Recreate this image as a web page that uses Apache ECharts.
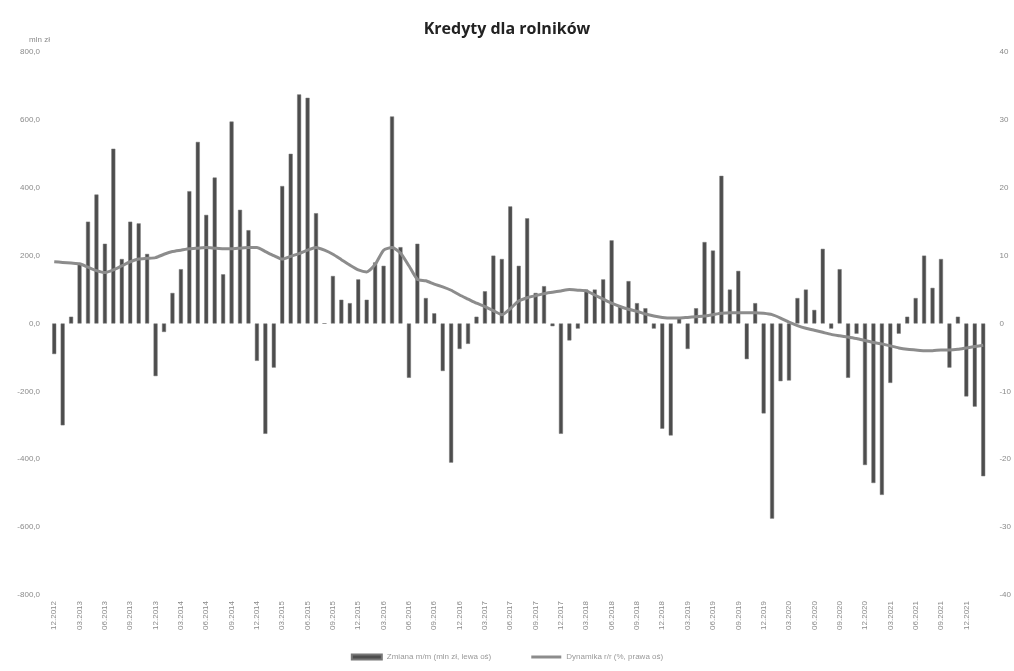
<!DOCTYPE html>
<html style="height: 100%">
<head>
    <meta charset="utf-8">
    <title>Kredyty dla rolników</title>
    <script src="https://cdn.jsdelivr.net/npm/echarts@6/dist/echarts.min.js"></script>
</head>
<body style="height: 100%; margin: 0; background: #fff">
<div id="container" style="width: 1014px; height: 671px"></div>
<script type="text/javascript">
    // miesiące 12.2012 - 02.2022
    var months = ['12.2012',
        '01.2013','02.2013','03.2013','04.2013','05.2013','06.2013','07.2013','08.2013','09.2013','10.2013','11.2013','12.2013',
        '01.2014','02.2014','03.2014','04.2014','05.2014','06.2014','07.2014','08.2014','09.2014','10.2014','11.2014','12.2014',
        '01.2015','02.2015','03.2015','04.2015','05.2015','06.2015','07.2015','08.2015','09.2015','10.2015','11.2015','12.2015',
        '01.2016','02.2016','03.2016','04.2016','05.2016','06.2016','07.2016','08.2016','09.2016','10.2016','11.2016','12.2016',
        '01.2017','02.2017','03.2017','04.2017','05.2017','06.2017','07.2017','08.2017','09.2017','10.2017','11.2017','12.2017',
        '01.2018','02.2018','03.2018','04.2018','05.2018','06.2018','07.2018','08.2018','09.2018','10.2018','11.2018','12.2018',
        '01.2019','02.2019','03.2019','04.2019','05.2019','06.2019','07.2019','08.2019','09.2019','10.2019','11.2019','12.2019',
        '01.2020','02.2020','03.2020','04.2020','05.2020','06.2020','07.2020','08.2020','09.2020','10.2020','11.2020','12.2020',
        '01.2021','02.2021','03.2021','04.2021','05.2021','06.2021','07.2021','08.2021','09.2021','10.2021','11.2021','12.2021',
        '01.2022','02.2022'];

    // zmiana m/m w mln zł
    var changes = [-90,-300,20,175,300,380,235,515,190,300, 295,205,-155,-25,90,160,390,535,320,430,
        145,595,335,275,-110,-325,-130,405,500,675, 665,325,0,140,70,60,130,70,180,170,
        610,225,-160,235,75,30,-140,-410,-75,-60, 20,95,200,190,345,170,310,90,110,-8,
        -325,-50,-15,100,100,130,245,50,125,60, 45,-15,-310,-330,15,-75,45,240,215,435,
        100,155,-105,60,-265,-575,-170,-168,75,100, 40,220,-15,160,-160,-30,-417,-470,-505,-175,
        -30,20,75,200,105,190,-130,20,-215,-245, -450];

    // dynamika r/r w %
    var dynamics = [9.1,9.0,8.9,8.8,8.3,7.8,7.5,7.9,8.5,9.1, 9.5,9.6,9.7,10.2,10.6,10.8,11.0,11.1,11.2,11.1,
        11.0,11.0,11.1,11.2,11.2,10.6,10.0,9.5,9.9,10.3, 10.8,11.2,10.8,10.2,9.4,8.6,7.9,7.6,8.7,10.8,
        11.2,10.4,8.5,6.5,6.3,5.8,5.4,4.9,4.2,3.6, 3.0,2.5,1.9,1.3,2.2,3.3,3.8,4.1,4.4,4.6,
        4.8,5.0,4.9,4.8,4.2,3.6,3.0,2.5,2.1,1.8, 1.4,1.1,0.9,0.8,0.8,0.9,1.0,1.1,1.3,1.5,
        1.6,1.6,1.6,1.6,1.5,1.3,0.8,0.2,-0.3,-0.7, -1.0,-1.3,-1.6,-1.8,-2.0,-2.2,-2.5,-2.8,-3.0,-3.3,
        -3.6,-3.8,-3.9,-4.0,-4.0,-3.9,-3.9,-3.8,-3.6,-3.4, -3.2];

    var leftTicks = [-800, -600, -400, -200, 0, 200, 400, 600, 800];
    var rightTicks = [-40, -30, -20, -10, 0, 10, 20, 30, 40];

    var dom = document.getElementById("container");
    var myChart = echarts.init(dom);

    var labelColor = '#8a8a8a';

    var option = {
        backgroundColor: '#fff',
        animation: false,
        title: {
            text: 'Kredyty dla rolników',
            left: 'center',
            top: 16,
            textStyle: {fontFamily: 'Open Sans', fontSize: 16, fontWeight: 'bold', color: '#222'}
        },
        grid: {left: 50, right: 26, top: 52, bottom: 76},
        legend: {
            bottom: 5,
            left: 'center',
            itemGap: 40,
            itemWidth: 30,
            itemHeight: 5,
            textStyle: {fontSize: 8, color: '#999'},
            data: [
                {name: 'Zmiana m/m (mln zł, lewa oś)', icon: 'rect'},
                {name: 'Dynamika r/r (%, prawa oś)', icon: 'path://M0,0 L30,0 L30,3 L0,3 Z'}
            ]
        },
        xAxis: {
            type: 'category',
            data: months,
            axisLine: {show: false},
            axisTick: {show: false},
            axisLabel: {interval: 2, rotate: 90, fontSize: 8, color: labelColor, margin: 6}
        },
        yAxis: [{
            type: 'value',
            min: leftTicks[0],
            max: leftTicks[leftTicks.length - 1],
            interval: 200,
            name: 'mln zł',
            nameGap: 8,
            nameTextStyle: {fontSize: 8, color: labelColor, align: 'right'},
            splitLine: {show: false},
            axisLine: {show: false},
            axisTick: {show: false},
            axisLabel: {
                fontSize: 8, color: labelColor, margin: 10,
                formatter: function (v) { return v.toFixed(1).replace('.', ','); }
            }
        }, {
            type: 'value',
            min: rightTicks[0],
            max: rightTicks[rightTicks.length - 1],
            interval: 10,
            splitLine: {show: false},
            axisLine: {show: false},
            axisTick: {show: false},
            axisLabel: {fontSize: 8, color: labelColor, margin: 12}
        }],
        series: [{
            name: 'Zmiana m/m (mln zł, lewa oś)',
            type: 'bar',
            data: changes,
            barWidth: 4,
            itemStyle: {color: '#4d4d4d', borderColor: '#777', borderWidth: 0.5}
        }, {
            name: 'Dynamika r/r (%, prawa oś)',
            type: 'line',
            yAxisIndex: 1,
            data: dynamics,
            symbol: 'none',
            smooth: 0.2,
            lineStyle: {color: '#8c8c8c', width: 3},
            itemStyle: {color: '#8c8c8c'}
        }]
    };

    myChart.setOption(option, true);
</script>
</body>
</html>
